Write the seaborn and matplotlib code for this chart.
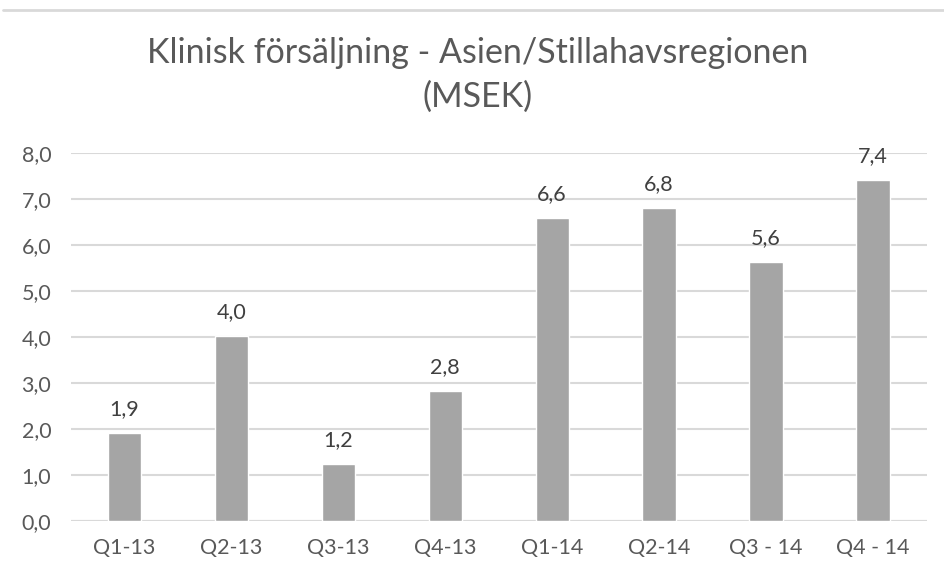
import matplotlib
matplotlib.use("Agg")
import matplotlib.pyplot as plt
import seaborn as sns
import pandas as pd
from matplotlib.lines import Line2D

# Data
quarters = ["Q1-13", "Q2-13", "Q3-13", "Q4-13", "Q1-14", "Q2-14", "Q3 - 14", "Q4 - 14"]
sales = [1.91, 4.02, 1.24, 2.82, 6.59, 6.80, 5.64, 7.41]
yticks = [0, 1, 2, 3, 4, 5, 6, 7, 8]

df = pd.DataFrame({"kvartal": quarters, "msek": sales})

sns.set_theme(style="white")
plt.rcParams["font.family"] = ["Lato", "DejaVu Sans"]

text_col = "#595959"
grid_col = "#D9D9D9"

fig = plt.figure(figsize=(9.44, 5.76), dpi=100)
ax = fig.add_axes([70.7 / 944, 1 - 521 / 576, (926.5 - 70.7) / 944, (521 - 153.3) / 576])

sns.barplot(data=df, x="kvartal", y="msek", color="#A5A5A5", saturation=1,
            width=0.31, ax=ax, zorder=3)

ax.set_xlim(-0.5, len(quarters) - 0.5)
ax.set_ylim(0, 8)
ax.set_yticks(yticks)
ax.set_yticklabels([f"{t:.1f}".replace(".", ",") for t in yticks])
ax.yaxis.grid(True, color=grid_col, linewidth=1.5, zorder=0)
ax.set_axisbelow(True)
for s in ax.spines.values():
    s.set_visible(False)
ax.axhline(0, color=grid_col, linewidth=1.5, zorder=1)

ax.tick_params(axis="y", length=0, pad=14, labelsize=15.5, labelcolor=text_col)
ax.tick_params(axis="x", length=0, pad=12, labelsize=15.5, labelcolor=text_col)
ax.set_xlabel("")
ax.set_ylabel("")

# Value labels with decimal comma
ax.bar_label(ax.containers[0], fmt=lambda v: f"{v:.1f}".replace(".", ","),
             padding=10, fontsize=15.5, color="#404040")

fig.text(0.506, 1 - 53 / 576, "Klinisk försäljning - Asien/Stillahavsregionen",
         ha="center", va="center", fontsize=24.5, color=text_col)
fig.text(0.506, 1 - 97 / 576, "(MSEK)", ha="center", va="center",
         fontsize=24.5, color=text_col)

# thin border line at the top of the chart area
fig.add_artist(Line2D([3 / 944, 1], [1 - 10 / 576, 1 - 10 / 576],
                      color=grid_col, linewidth=2, transform=fig.transFigure))

fig.savefig("out.png", dpi=100)
